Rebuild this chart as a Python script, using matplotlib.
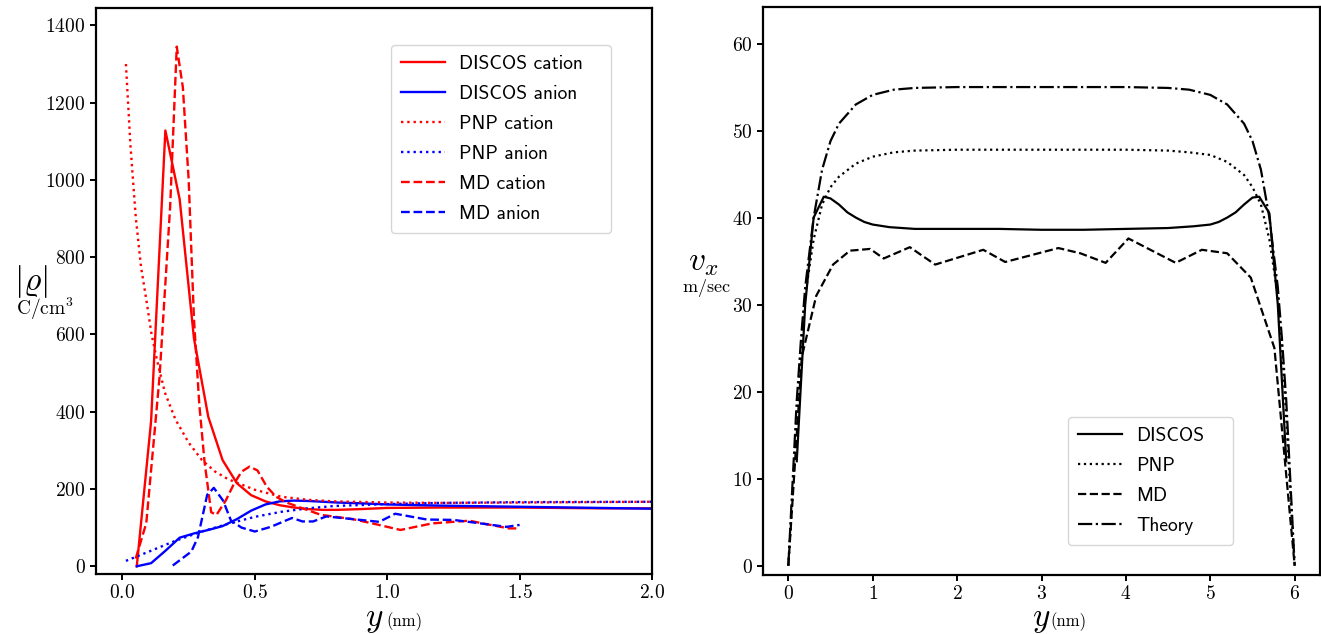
import numpy as np
import matplotlib
matplotlib.use("Agg")
import matplotlib.pyplot as plt

plt.rcParams.update({
    "font.family": "serif",
    "font.serif": ["cmr10"],
    "mathtext.fontset": "cm",
    "axes.formatter.use_mathtext": True,
    "axes.linewidth": 1.6,
    "xtick.major.width": 1.4,
    "ytick.major.width": 1.4,
    "xtick.major.size": 4,
    "ytick.major.size": 4,
    "xtick.labelsize": 14,
    "ytick.labelsize": 14,
})

# ---- left panel: charge density |rho| (C/cm^3) vs y (nm) ----
discos_x = [0.054, 0.108, 0.162, 0.216, 0.270, 0.324, 0.378, 0.432, 0.486, 0.540,
            0.594, 0.648, 0.702, 0.756, 0.810, 0.90, 1.0, 1.2, 1.5, 1.8, 2.0]
discos_cat = [0, 375, 1128, 950, 590, 387, 275, 215, 184, 168,
              158, 152, 148, 146, 146, 148, 151, 152, 152, 150, 150]
discos_an = [0, 8, 40, 74, 85, 94, 104, 122, 144, 160,
             168, 170, 169, 167, 165, 163, 160, 157, 154, 151, 149]

pnp_cat_x = [0.013, 0.03, 0.05, 0.07, 0.09, 0.11, 0.13, 0.16, 0.2, 0.25, 0.3,
             0.35, 0.4, 0.5, 0.6, 0.7, 0.8, 1.0, 1.2, 1.5, 2.0]
pnp_cat = [1300, 1090, 905, 775, 690, 600, 535, 450, 380, 320, 275,
           245, 225, 198, 180, 172, 168, 165, 164, 165, 167]
pnp_an_x = [0.013, 0.1, 0.2, 0.3, 0.4, 0.5, 0.6, 0.7, 0.8, 1.0, 1.2, 1.5, 2.0]
pnp_an = [14, 38, 66, 90, 110, 128, 141, 150, 156, 161, 164, 166, 167]

md_cat_x = [0.05, 0.09, 0.14, 0.18, 0.205, 0.228, 0.25, 0.27, 0.29, 0.31, 0.335,
            0.355, 0.39, 0.42, 0.45, 0.48, 0.51, 0.545, 0.58, 0.62, 0.68, 0.75,
            0.87, 0.95, 1.05, 1.17, 1.31, 1.36, 1.46, 1.5]
md_cat = [20, 112, 490, 930, 1345, 1240, 1000, 640, 420, 270, 140,
          133, 170, 212, 245, 258, 248, 206, 180, 165, 150, 133,
          122, 110, 94, 111, 118, 111, 98, 98]
md_an_x = [0.19, 0.26, 0.285, 0.32, 0.345, 0.38, 0.41, 0.45, 0.5, 0.56, 0.64,
           0.68, 0.72, 0.77, 0.87, 0.97, 1.03, 1.15, 1.25, 1.33, 1.45, 1.5]
md_an = [2, 38, 75, 185, 203, 170, 118, 100, 90, 102, 125,
         116, 116, 129, 122, 115, 136, 121, 120, 113, 102, 107]

# ---- right panel: velocity v_x (m/sec) vs y (nm) ----
v_discos_x = [0.1, 0.2, 0.3, 0.42, 0.5, 0.6, 0.7, 0.8, 0.9, 1.0, 1.2, 1.5, 2.0, 2.5,
              3.0, 3.5, 4.0, 4.5, 4.8, 5.0, 5.1, 5.2, 5.3, 5.4, 5.5, 5.58, 5.7, 5.8, 5.9]
v_discos = [12, 30, 40, 42.4, 42.2, 41.5, 40.6, 40.0, 39.5, 39.2, 38.9, 38.7, 38.7, 38.7,
            38.6, 38.6, 38.7, 38.8, 39.0, 39.2, 39.5, 40.0, 40.6, 41.5, 42.3, 42.4, 40.5, 30, 12]

v_pnp_x = [0, 0.05, 0.1, 0.15, 0.2, 0.3, 0.4, 0.5, 0.6, 0.8, 1.0, 1.25, 1.5, 2.0, 3.0,
           4.0, 4.5, 4.75, 5.0, 5.2, 5.4, 5.5, 5.6, 5.7, 5.8, 5.85, 5.9, 5.95, 6.0]
v_pnp = [0, 8, 17, 25, 31, 37.5, 41.5, 43.5, 44.7, 46.2, 47.0, 47.5, 47.7, 47.8, 47.8,
         47.8, 47.7, 47.5, 47.2, 46.4, 44.9, 43.5, 41.5, 37.5, 31, 25, 17, 8, 0]

v_md_x = [0, 0.16, 0.33, 0.53, 0.73, 0.97, 1.13, 1.44, 1.74, 2.31, 2.57, 3.2, 3.46,
          3.76, 4.03, 4.59, 4.9, 5.2, 5.48, 5.76, 6.0]
v_md = [0, 24, 31, 34.6, 36.2, 36.4, 35.3, 36.6, 34.6, 36.3, 34.9, 36.5, 35.9,
        34.8, 37.6, 34.8, 36.3, 35.9, 33.1, 25, 0]

v_th_x = [0, 0.1, 0.15, 0.2, 0.3, 0.4, 0.5, 0.6, 0.8, 1.0, 1.25, 1.5, 2.0, 3.0, 4.0,
          4.5, 4.75, 5.0, 5.2, 5.4, 5.5, 5.6, 5.7, 5.8, 5.85, 5.9, 6.0]
v_th = [0, 19, 26, 32, 40, 45.5, 48.8, 50.8, 53.0, 54.1, 54.7, 54.9, 55, 55, 55,
        54.9, 54.7, 54.1, 53.0, 50.8, 48.8, 45.5, 40, 32, 26, 19, 0]

W, H = 1321, 634
fig = plt.figure(figsize=(W / 100, H / 100), dpi=100)
ax1 = fig.add_axes([96 / W, 1 - 574 / H, (652 - 96) / W, (574 - 8) / H])
ax2 = fig.add_axes([763 / W, 1 - 575 / H, (1320 - 763) / W, (575 - 7) / H])

leg_kw = dict(borderaxespad=0, mode="expand", prop={"family": "cmss10", "size": 14},
              handlelength=2.3, handletextpad=0.7, labelspacing=0.62, borderpad=0.5)

lw = 1.7
ax1.plot(discos_x, discos_cat, color="red", lw=lw, label="DISCOS cation")
ax1.plot(discos_x, discos_an, color="blue", lw=lw, label="DISCOS anion")
ax1.plot(pnp_cat_x, pnp_cat, color="red", lw=lw, ls=":", label="PNP cation")
ax1.plot(pnp_an_x, pnp_an, color="blue", lw=lw, ls=":", label="PNP anion")
ax1.plot(md_cat_x, md_cat, color="red", lw=lw, ls="--", label="MD cation")
ax1.plot(md_an_x, md_an, color="blue", lw=lw, ls="--", label="MD anion")

ax1.set_xlim(-0.1, 2.0)
ax1.set_ylim(-20, 1445)
ax1.set_xticks([0.0, 0.5, 1.0, 1.5, 2.0])
ax1.set_yticks(np.arange(0, 1401, 200))
ax1.legend(loc="upper left", bbox_to_anchor=(0.5306, 0.5, 0.3957, 0.4346), **leg_kw)

ax2.plot(v_discos_x, v_discos, color="black", lw=1.6, label="DISCOS")
ax2.plot(v_pnp_x, v_pnp, color="black", lw=1.6, ls=":", label="PNP")
ax2.plot(v_md_x, v_md, color="black", lw=1.6, ls="--", label="MD")
ax2.plot(v_th_x, v_th, color="black", lw=1.6, ls="-.", label="Theory")

ax2.set_xlim(-0.3, 6.3)
ax2.set_ylim(-1.07, 64.2)
ax2.set_xticks(range(0, 7))
ax2.set_yticks(range(0, 61, 10))
ax2.legend(loc="lower left", bbox_to_anchor=(0.5476, 0.0528, 0.2965, 0.3), **leg_kw)

# axis labels placed as separate pieces (big symbol + small unit)
def ftxt(px, py, s, **kw):
    fig.text(px / W, 1 - py / H, s, **kw)

ftxt(374, 626, r"$y$", fontsize=24, ha="center", va="baseline")
ftxt(386, 626, "(nm)", fontsize=12, ha="left", va="baseline")
ftxt(1041, 626, r"$y$", fontsize=24, ha="center", va="baseline")
ftxt(1050, 626, "(nm)", fontsize=12, ha="left", va="baseline")

ftxt(31, 281, r"$|\varrho|$", fontsize=24, ha="center", va="center")
ftxt(45, 309, r"$\mathrm{C/cm^3}$", fontsize=14, ha="center", va="center")
ftxt(703, 263, r"$v_x$", fontsize=24, ha="center", va="center")
ftxt(706, 288, r"$\mathrm{m/sec}$", fontsize=13, ha="center", va="center")

fig.savefig("out.png", dpi=100)
